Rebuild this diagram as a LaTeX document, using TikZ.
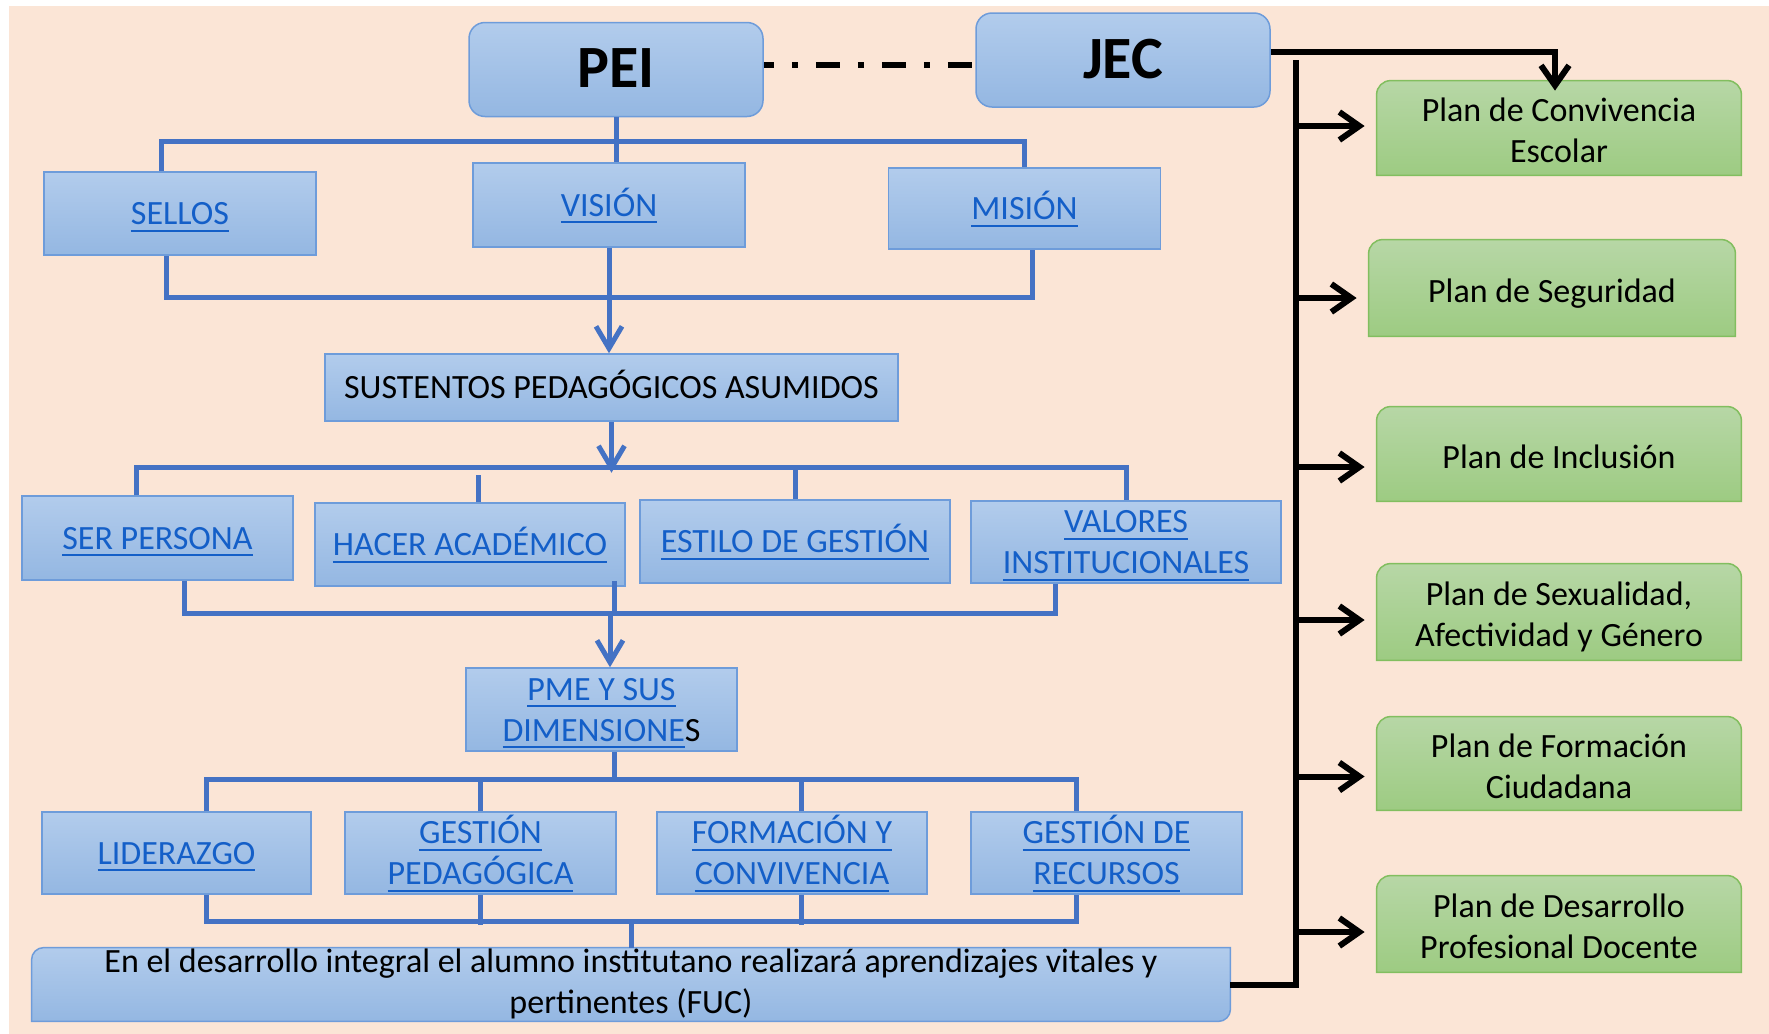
\documentclass[tikz,border=0pt]{standalone}
\usepackage{fontspec}
\setmainfont{Carlito}
\usetikzlibrary{arrows.meta,calc,backgrounds}

\definecolor{pagebg}{RGB}{251,229,214}
\definecolor{bluetop}{RGB}{178,204,236}
\definecolor{bluebot}{RGB}{148,183,226}
\definecolor{blueedge}{RGB}{110,156,218}
\definecolor{greentop}{RGB}{183,215,166}
\definecolor{greenbot}{RGB}{157,203,130}
\definecolor{greenedge}{RGB}{130,190,95}
\definecolor{linkblue}{RGB}{20,95,200}
\definecolor{busblue}{RGB}{68,114,196}

\newsavebox{\lnkbox}
\newcommand{\lnk}[1]{{\color{linkblue}\sbox{\lnkbox}{#1}\rlap{\smash{\rule[-3.5pt]{\wd\lnkbox}{1pt}}}\usebox{\lnkbox}}}
\newcommand{\bstrut}{\rule[-3.5pt]{0pt}{18pt}}
\newcommand{\gstrut}{\rule[-4pt]{0pt}{22pt}}
\newcommand{\gtop}{\rule{0pt}{18pt}}
\newcommand{\gbot}{\rule[-4pt]{0pt}{4pt}}
\newcommand{\hstrut}{\rule{0pt}{21.5pt}}
\newcommand{\twol}[4]{#1#3\\#4#2}

\tikzset{
  boxtext/.style={font=\fontsize{17}{20.5}\selectfont, align=center, inner sep=0pt,
    execute at begin node=\bstrut, execute at end node=\bstrut},
  twoline/.style={execute at begin node={}, execute at end node={}},
  bluebox/.style={boxtext, draw=blueedge, line width=0.75pt, top color=bluetop, bottom color=bluebot,
    minimum width=136pt, minimum height=41.5pt},
  headbox/.style={bluebox, rounded corners=8pt, font=\fontsize{30}{36}\selectfont\bfseries,
    execute at begin node=\hstrut, execute at end node={},
    minimum width=147pt, minimum height=47pt},
  plantext/.style={boxtext, execute at begin node=\gstrut, execute at end node=\gstrut,
    minimum width=182pt, minimum height=47pt},
  greenshade/.style={top color=greentop, bottom color=greenbot, draw=greenedge, line width=0.75pt},
  fucshade/.style={top color=bluetop, bottom color=bluebot, draw=blueedge, line width=0.75pt},
  bus/.style={draw=busblue, line width=2.5pt},
  busarrow/.style={bus, -{Straight Barb[length=11pt,width=13pt]}},
  planline/.style={draw=black, line width=3pt},
  planarrow/.style={planline, -{Straight Barb[length=10pt,width=14pt]}, shorten >=6pt}
}

\begin{document}
\begin{tikzpicture}[x=0.5pt,y=0.5pt,yscale=-1,xscale=1]
\useasboundingbox (0,0) rectangle (1769,1034);
\begin{scope}[on background layer]
\fill[pagebg] (9,6) rectangle (1769,1034);
\end{scope}

% heads
\node[headbox] (pei) at (616,69.5) {PEI};
\node[headbox] (jec) at (1123,60) {JEC};

% first row
\node[bluebox] (sellos) at (180,213.5) {\lnk{SELLOS}};
\node[bluebox, minimum height=42pt] (vision) at (609,205) {\lnk{VISIÓN}};
\node[bluebox, minimum height=40.5pt] (mision) at (1024.5,208.5) {\lnk{MISIÓN}};
\node[bluebox, minimum width=286.5pt, minimum height=33.5pt] (sustentos) at (611.5,387.5) {SUSTENTOS PEDAGÓGICOS ASUMIDOS};

% second row
\node[bluebox, minimum width=135.5pt, minimum height=42pt] (serp) at (157.5,538) {\lnk{SER PERSONA}};
\node[bluebox, minimum width=155pt] (hacer) at (470,544.5) {\lnk{HACER ACADÉMICO}};
\node[bluebox, minimum width=155pt] (estilo) at (795,541.5) {\lnk{ESTILO DE GESTIÓN}};
\node[bluebox, twoline, minimum width=155pt, minimum height=41pt] (valores) at (1126,542) {\twol{\bstrut}{\bstrut}{\lnk{VALORES}}{\lnk{INSTITUCIONALES}}};
\node[bluebox, twoline, minimum width=135.5pt] (pme) at (601.5,709.5) {\twol{\bstrut}{\bstrut}{\lnk{PME Y SUS}}{\lnk{DIMENSIONE}S}};

% third row
\node[bluebox, minimum width=134.5pt, minimum height=41pt] (lider) at (176.5,853) {\lnk{LIDERAZGO}};
\node[bluebox, twoline, minimum width=135.5pt, minimum height=41pt] (gped) at (480.5,853) {\twol{\bstrut}{\bstrut}{\lnk{GESTIÓN}}{\lnk{PEDAGÓGICA}}};
\node[bluebox, twoline, minimum width=135pt, minimum height=41pt] (formc) at (792,853) {\twol{\bstrut}{\bstrut}{\lnk{FORMACIÓN Y}}{\lnk{CONVIVENCIA}}};
\node[bluebox, twoline, minimum width=135.5pt, minimum height=41pt] (grec) at (1106.5,853) {\twol{\bstrut}{\bstrut}{\lnk{GESTIÓN DE}}{\lnk{RECURSOS}}};
\node[boxtext, twoline, minimum width=599pt, minimum height=36.5pt] (fuc) at (631,984.5) {En el desarrollo integral el alumno institutano realizará aprendizajes vitales y\\pertinentes (FUC)};

% plans
\node[plantext, twoline] (pc1) at (1559,128) {\twol{\gtop}{\gbot}{Plan de Convivencia}{Escolar}};
\node[plantext, minimum width=183pt, minimum height=48pt] (pc2) at (1552,288) {Plan de Seguridad};
\node[plantext] (pc3) at (1559,454) {Plan de Inclusión};
\node[plantext, twoline, minimum height=48pt] (pc4) at (1559,612) {\twol{\gtop}{\gbot}{Plan de Sexualidad,}{Afectividad y Género}};
\node[plantext, twoline, minimum height=46.5pt] (pc5) at (1559,763.5) {\twol{\gtop}{\gbot}{Plan de Formación}{Ciudadana}};
\node[plantext, twoline, minimum height=48pt] (pc6) at (1559,924) {\twol{\gtop}{\gbot}{Plan de Desarrollo}{Profesional Docente}};

\begin{scope}[on background layer]
\foreach \n in {pc1,pc2,pc3,pc4,pc5,pc6}
  \shade[greenshade] (\n.south west) [rounded corners=7pt] -- (\n.north west) -- (\n.north east) [sharp corners] -- (\n.south east) -- cycle;
\shade[fucshade] (fuc.north east) [rounded corners=6pt] -- (fuc.south east) [sharp corners] -- (fuc.south west) [rounded corners=6pt] -- (fuc.north west) [sharp corners] -- cycle;
\end{scope}

% PEI - JEC
\coordinate (tie) at (0,65);
\draw[planline, dash pattern=on 12pt off 9pt on 3pt off 9pt, dash phase=7pt] (pei.east |- tie) -- (jec.west |- tie);

% JEC to the plans
\coordinate (spine) at (1296,60);
\coordinate (jecout) at (0,52);
\draw[planline, -{Straight Barb[length=10pt,width=14pt]}, shorten >=-5pt] (jec.east |- jecout) -| ($(pc1.north)+(-4,0)$);
\draw[planline] (spine) |- (fuc.east);
\foreach \n/\dy in {pc1/-2,pc2/10,pc3/13,pc4/8,pc5/13,pc6/8} {
  \coordinate (tip) at ($(\n.west)+(0,\dy)$);
  \draw[planarrow] (spine |- tip) -- (tip);
}

% PEI to SUSTENTOS
\coordinate (top1) at (0,141);
\draw[bus] ($(sellos.north)+(-19,0)$) |- (mision.north |- top1) -- (mision.north);
\draw[bus] (pei.south) -- (pei.south |- vision.north);
\draw[bus] ($(sellos.south)+(-14,0)$) -- ++(0,42) -| ($(mision.south)+(8,0)$);
\draw[busarrow] (vision.south) -- (vision.south |- sustentos.north);

% SUSTENTOS to PME
\draw[busarrow] (sustentos.south) -- ++(0,51);
\draw[bus] ($(serp.north)+(-21,0)$) -- ++(0,-28) -| (valores.north);
\draw[bus] ($(hacer.north)+(8,0)$) -- ++(0,-27);
\draw[bus] (estilo.north) -- ++(0,-32);
\draw[bus] ($(serp.south)+(27,0)$) -- ++(0,33) -| ($(valores.south)+(-71,0)$);
\draw[bus] ($(hacer.south east)+(-11,-6)$) -- ++(0,33);
\coordinate (low2) at (610,613);
\draw[busarrow] (low2) -- (low2 |- pme.north);

% PME to FUC
\draw[bus] ($(pme.south)+(12.5,0)$) -- ++(0,29);
\draw[bus] ($(lider.north)+(29.5,0)$) -- ++(0,-32) -| ($(grec.north)+(-30.5,0)$);
\draw[bus] ($(lider.south)+(29.5,0)$) -- ++(0,27) -| ($(grec.south)+(-30.5,0)$);
\foreach \n/\dx in {gped/0,formc/9} {
  \draw[bus] ($(\n.north)+(\dx,0)$) -- ++(0,-32);
  \draw[bus] ($(\n.south)+(\dx,0)$) -- ++(0,30);
}
\draw[bus] (fuc.north) -- ++(0,-27);

\end{tikzpicture}
\end{document}
